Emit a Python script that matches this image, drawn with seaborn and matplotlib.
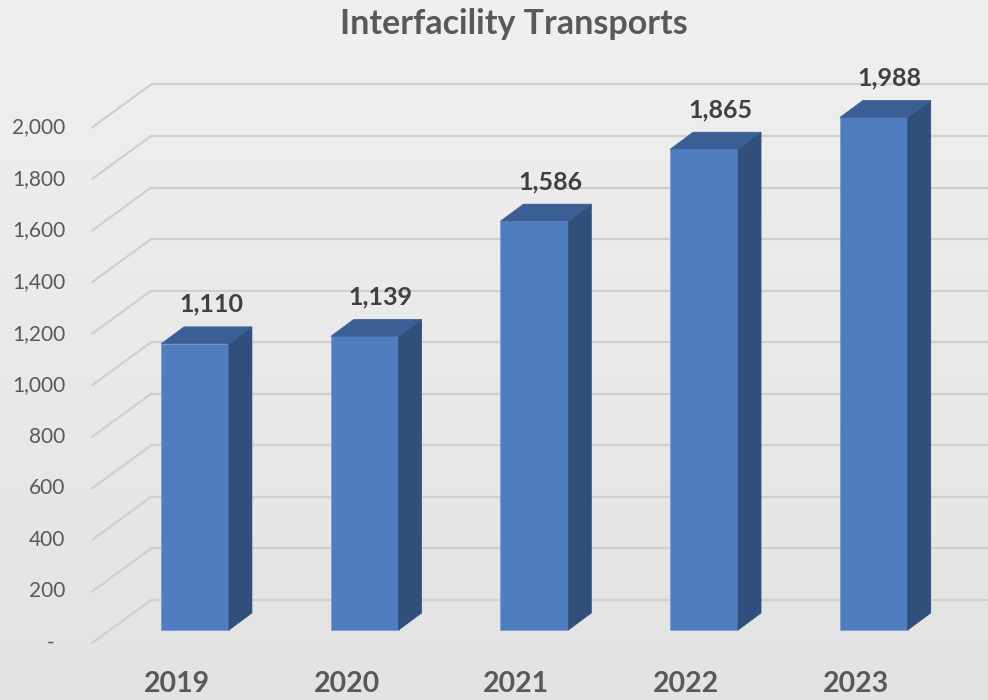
import numpy as np
import pandas as pd
import matplotlib
matplotlib.use("Agg")
import matplotlib.pyplot as plt
import matplotlib.transforms as mtransforms
from matplotlib.colors import LinearSegmentedColormap
from matplotlib.patches import Polygon
from matplotlib.lines import Line2D
import seaborn as sns

# ---- data ----
years = ["2019", "2020", "2021", "2022", "2023"]
transports = [1110, 1139, 1586, 1865, 1988]
tick_values = [0, 200, 400, 600, 800, 1000, 1200, 1400, 1600, 1800, 2000]
tick_labels = ["-", "200", "400", "600", "800", "1,000", "1,200", "1,400",
               "1,600", "1,800", "2,000"]
title = "Interfacility Transports"

# ---- style ----
sns.set_theme(style="white")
plt.rcParams["font.family"] = ["Lato", "DejaVu Sans"]

FRONT = "#4f7dc0"
TOP = "#3b5e95"
SIDE = "#304f7b"
GRID = "#cfcfcf"
AXIS_TXT = "#595959"
VALUE_TXT = "#404040"

W, H, DPI = 988, 700, 100
fig = plt.figure(figsize=(W / DPI, H / DPI), dpi=DPI)

# soft vertical background gradient
bg = fig.add_axes([0, 0, 1, 1], zorder=-10)
grad = np.linspace(0, 1, 256)[:, None]
bg.imshow(grad, aspect="auto", extent=[0, 1, 0, 1], origin="upper",
          cmap=LinearSegmentedColormap.from_list("bg", ["#f0f0f0", "#e3e3e3"]))
bg.axis("off")

ax = fig.add_axes([0, 0, 1, 1])
ax.patch.set_alpha(0)

df = pd.DataFrame({"year": years, "transports": transports})
sns.barplot(data=df, x="year", y="transports", color=FRONT, saturation=1,
            width=0.40, edgecolor="#7d9fd3", linewidth=0.6, ax=ax, zorder=3)

# plot scale: category step and value scale in pixels
step_px = 169.7
px_per_unit = 0.2578
base_px = 70          # baseline of bar plane from bottom edge
first_px = 195        # first category centre from left edge
ax.set_xlim(-first_px / step_px, (W - first_px) / step_px)
ax.set_ylim(-base_px / px_per_unit, (H - base_px) / px_per_unit)
ax.axis("off")

# depth offsets (display pixels) relative to the bar plane
bar_depth = np.array([23.0, 17.0])
wall_depth = np.array([41.0, 30.0])
front_plane = np.array([-18.0, -13.0])

def shifted(offset):
    return ax.transData + mtransforms.Affine2D().translate(*offset)

ident = mtransforms.IdentityTransform()
x_lo, x_hi = -0.5, len(years) - 0.5

# back-wall gridlines and slanted side-wall lines
for v in tick_values:
    ax.plot([x_lo, x_hi], [v, v], color=GRID, lw=1.6,
            transform=shifted(wall_depth), zorder=1, solid_capstyle="butt")
    p = ax.transData.transform((x_lo, v))
    a, b = p + front_plane, p + wall_depth
    ax.add_line(Line2D([a[0], b[0]], [a[1], b[1]], color=GRID, lw=1.6,
                       transform=ident, zorder=1))

# value axis labels on the front plane
for v, lab in zip(tick_values, tick_labels):
    dx = -27 if v != 0 else -38
    ax.text(x_lo, v, lab, transform=shifted(front_plane + np.array([dx, 0])),
            ha="right", va="center", fontsize=15, color=AXIS_TXT)

# 3-D faces of each bar, and value labels
for bar, val in zip(ax.patches, transports):
    x0, y0 = bar.get_x(), bar.get_y()
    x1, y1 = x0 + bar.get_width(), y0 + bar.get_height()
    fbl, fbr, ftr, ftl = ax.transData.transform([(x0, y0), (x1, y0), (x1, y1), (x0, y1)])
    side = [fbr, ftr, ftr + bar_depth, fbr + bar_depth]
    top = [ftl, ftr, ftr + bar_depth, ftl + bar_depth]
    ax.add_patch(Polygon(side, closed=True, facecolor=SIDE, edgecolor=SIDE,
                         lw=0.5, transform=ident, zorder=3))
    ax.add_patch(Polygon(top, closed=True, facecolor=TOP, edgecolor=TOP,
                         lw=0.5, transform=ident, zorder=3))
    cx = bar.get_x() + bar.get_width() / 2
    ax.text(cx, val, f"{val:,}", transform=shifted((16, 32)),
            ha="center", va="baseline", fontsize=18, fontweight="bold",
            color=VALUE_TXT, zorder=5)

# category labels on the front plane
for i, yr in enumerate(years):
    ax.text(i, 0, yr, transform=shifted(front_plane + np.array([0, -41])),
            ha="center", va="center", fontsize=20.5, fontweight="bold",
            color=AXIS_TXT)

fig.text(514 / W, 1 - 34 / H, title, ha="center", va="baseline",
         fontsize=24.5, fontweight="bold", color=AXIS_TXT)

fig.savefig("out.png", dpi=DPI)
